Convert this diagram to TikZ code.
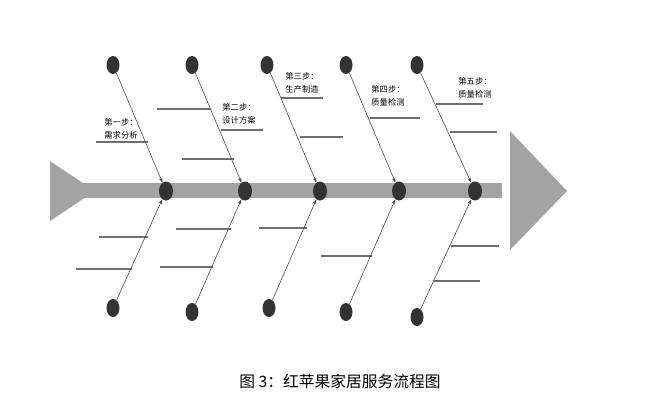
\documentclass[tikz,border=0pt]{standalone}
\usepackage{fontspec}
\newfontfamily\cjk{Noto Sans CJK SC}
\usetikzlibrary{arrows.meta,shapes.geometric}
\definecolor{spinegray}{HTML}{A3A3A3}
\definecolor{dotdark}{HTML}{333333}
\definecolor{ribgray}{HTML}{6E6E6E}
\definecolor{arrowgray}{HTML}{4A4A4A}
\begin{document}
\begin{tikzpicture}[x=1bp,y=-1bp,
  dot/.style={ellipse,fill=dotdark,minimum width=13bp,minimum height=18bp,inner sep=0pt},
  spdot/.style={ellipse,fill=dotdark,minimum width=14bp,minimum height=19bp,inner sep=0pt},
  bone/.style={draw=arrowgray,line width=0.6bp,-{Stealth[length=5bp,width=3.5bp]}},
  rib/.style={draw=ribgray,line width=1.3bp},
  lbl/.style={font=\cjk\fontsize{8.3}{12.5}\selectfont,align=left,inner sep=0pt,text=black}]
\useasboundingbox[fill=white] (0,0) rectangle (664,412);
% spine
\fill[spinegray] (83,183) rectangle (502,198);
\fill[spinegray] (50,161) -- (95,191) -- (50,221) -- cycle;
\fill[spinegray] (510,131) -- (567,191) -- (510,250) -- cycle;
% ribs top
\draw[rib] (96,142) -- (148,142);
\draw[rib] (157,109) -- (211,109);
\draw[rib] (221,130) -- (263,130);
\draw[rib] (182,159) -- (234,159);
\draw[rib] (281,98) -- (323,98);
\draw[rib] (300,137) -- (343,137);
\draw[rib] (370,118) -- (420,118);
\draw[rib] (436,104) -- (483,104);
\draw[rib] (450,132) -- (497,132);
% ribs bottom
\draw[rib] (99,237) -- (148,237);
\draw[rib] (76,269) -- (132,269);
\draw[rib] (176,229) -- (231,229);
\draw[rib] (160,267) -- (213,267);
\draw[rib] (259,228) -- (307,228);
\draw[rib] (321,256) -- (372,256);
\draw[rib] (451,246) -- (499,246);
\draw[rib] (434,281) -- (480,281);
% nodes
\node[spdot] (s1) at (166,191) {};
\node[spdot] (s2) at (245,191) {};
\node[spdot] (s3) at (320,191) {};
\node[spdot] (s4) at (399,191) {};
\node[spdot] (s5) at (475,191) {};
\node[dot] (t1) at (113,65) {};
\node[dot] (t2) at (192,65) {};
\node[dot] (t3) at (267,65) {};
\node[dot] (t4) at (346,65) {};
\node[dot] (t5) at (417,65) {};
\node[dot] (b1) at (113,308) {};
\node[dot] (b2) at (192,312) {};
\node[dot] (b3) at (269,308) {};
\node[dot] (b4) at (346,312) {};
\node[dot] (b5) at (417,317) {};
% bones
\foreach \i in {1,...,5} {
  \draw[bone] (t\i) -- (s\i);
  \draw[bone] (b\i) -- (s\i);
}
% labels
\node[lbl] (l1) at (121,129) {第一步：\\需求分析};
\node[lbl] (l2) at (239,114) {第二步：\\设计方案};
\node[lbl] (l3) at (302,83) {第三步：\\生产制造};
\node[lbl] (l4) at (388,96) {第四步：\\质量检测};
\node[lbl] (l5) at (475,88) {第五步：\\质量检测};
% caption
\node[font=\cjk\fontsize{15.8}{18}\selectfont,inner sep=0pt] (cap) at (340,381) {图 3：红苹果家居服务流程图};
\end{tikzpicture}
\end{document}
